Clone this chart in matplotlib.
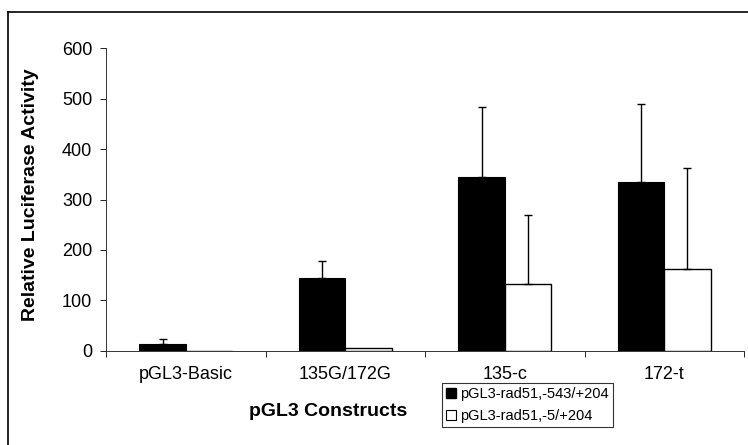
import matplotlib
matplotlib.use("Agg")
import matplotlib.pyplot as plt
from matplotlib.lines import Line2D
import numpy as np

plt.rcParams['font.family'] = ['Liberation Sans', 'DejaVu Sans']

# data
constructs = ['pGL3-Basic', '135G/172G', '135-c', '172-t']
long_vals = [13, 145, 344, 335]
long_err = [11, 33, 140, 155]
short_vals = [0, 5, 133, 163]
short_err = [0, 0, 137, 199]
series_names = ['pGL3-rad51,-543/+204', 'pGL3-rad51,-5/+204']

W, H = 748, 445
fig = plt.figure(figsize=(W / 100, H / 100), dpi=100)
ax = fig.add_axes([106 / W, 1 - 350.7 / H, (744 - 106) / W, (350.7 - 48.3) / H])

x = np.arange(len(constructs)) + 0.5
bw = 0.29

ax.bar(x - bw / 2, long_vals, bw, color='black', edgecolor='black', linewidth=0.8, zorder=2)
ax.bar(x + bw / 2, short_vals, bw, color='white', edgecolor='black', linewidth=1.0, zorder=2)

ax.errorbar(x - bw / 2, long_vals, yerr=[np.zeros(4), long_err], fmt='none',
            ecolor='black', elinewidth=1, capsize=3, capthick=1, zorder=3)
# only draw error bars where there is one
idx = [i for i, e in enumerate(short_err) if e > 0]
ax.errorbar(x[idx] + bw / 2, np.array(short_vals)[idx],
            yerr=[np.zeros(len(idx)), np.array(short_err)[idx]], fmt='none',
            ecolor='black', elinewidth=1, capsize=3, capthick=1, zorder=3)

ax.set_xlim(0, 4)
ax.set_ylim(0, 600)
ax.set_yticks(range(0, 601, 100))
ax.tick_params(axis='y', labelsize=13, length=4, width=0.6, direction='out', pad=6)

ax.set_xticks([0, 1, 2, 3, 4])
ax.set_xticklabels([])
ax.set_xticks(x, minor=True)
ax.set_xticklabels(constructs, minor=True, fontsize=13)
ax.tick_params(axis='x', which='major', length=4, width=0.6, direction='out')
ax.tick_params(axis='x', which='minor', length=0, pad=11)

for s in ['top', 'right']:
    ax.spines[s].set_visible(False)
for s in ['left', 'bottom']:
    ax.spines[s].set_linewidth(0.7)
    ax.spines[s].set_color('#333333')

fig.text(31 / W, 1 - 195 / H, 'Relative Luciferase Activity', rotation=90,
         ha='center', va='center', fontsize=14, fontweight='bold')
fig.text(328 / W, 1 - 411 / H, 'pGL3 Constructs', ha='center', va='center',
         fontsize=14, fontweight='bold')

handles = [
    Line2D([], [], marker='s', linestyle='none', markerfacecolor='black',
           markeredgecolor='black', markersize=7),
    Line2D([], [], marker='s', linestyle='none', markerfacecolor='white',
           markeredgecolor='black', markersize=7, markeredgewidth=0.8),
]
leg = fig.legend(handles, series_names, loc='upper left',
                 bbox_to_anchor=(442 / W, 1 - 383 / H), fontsize=10.5,
                 frameon=True, fancybox=False, edgecolor='black',
                 handlelength=0.6, handletextpad=0.35, borderpad=0.3,
                 labelspacing=0.5, borderaxespad=0)
leg.get_frame().set_linewidth(0.8)

# outer frame of the scanned figure (top and left edges visible)
fig.add_artist(Line2D([8 / W, 1], [1 - 12 / H, 1 - 12 / H], color='black', linewidth=1.2))
fig.add_artist(Line2D([8 / W, 8 / W], [0, 1 - 12 / H], color='black', linewidth=1.2))

fig.savefig('out.png', dpi=100)
